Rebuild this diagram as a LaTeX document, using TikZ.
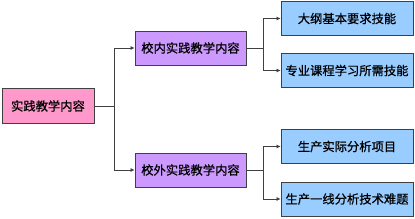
\documentclass[tikz,border=0pt]{standalone}
\usepackage{fontspec}
\usepackage{tikz}
\usetikzlibrary{arrows.meta}
\newfontfamily\cjk[FakeBold=0.6]{Noto Sans CJK SC}
\definecolor{boxPink}{RGB}{255, 153, 204}
\definecolor{boxPurple}{RGB}{204, 153, 255}
\definecolor{boxBlue}{RGB}{153, 204, 255}
\definecolor{edgeGray}{RGB}{64, 64, 64}

\begin{document}
\begin{tikzpicture}[x=1pt, y=1pt,
    box/.style={draw=edgeGray, line width=0.8pt, inner sep=0pt, font=\cjk\fontsize{12.3}{14}\selectfont},
    link/.style={draw=edgeGray, line width=0.7pt, -{Latex[length=4pt, width=4pt]}}]
      \useasboundingbox (0,0) rectangle (415,-218);

      % Root
      \node[box, fill=boxPink, minimum width=92pt, minimum height=35pt] (root) at (48,-106) {实践教学内容};

      % Second level
      \node[box, fill=boxPurple, minimum width=111pt, minimum height=34pt] (inner) at (190.5,-48) {校内实践教学内容};
      \node[box, fill=boxPurple, minimum width=111pt, minimum height=34pt] (outer) at (190.5,-170) {校外实践教学内容};

      % Third level
      \node[box, fill=boxBlue, minimum width=132pt, minimum height=34pt] (syllabus) at (347,-18.5) {大纲基本要求技能};
      \node[box, fill=boxBlue, minimum width=132pt, minimum height=34pt] (course) at (347,-70.5) {专业课程学习所需技能};
      \node[box, fill=boxBlue, minimum width=132pt, minimum height=34pt] (project) at (347,-146.5) {生产实际分析项目};
      \node[box, fill=boxBlue, minimum width=132pt, minimum height=34pt] (problem) at (347,-199) {生产一线分析技术难题};

      % Forks
      \coordinate (rootfork) at ([xshift=20pt]root.east);
      \coordinate (innerfork) at ([xshift=17pt]inner.east);
      \coordinate (outerfork) at ([xshift=17pt]outer.east);

      \draw[edgeGray, line width=0.7pt] (root.east) -- (rootfork);
      \draw[link] (rootfork) |- (inner.west);
      \draw[link] (rootfork) |- (outer.west);

      \draw[edgeGray, line width=0.7pt] (inner.east) -- (innerfork);
      \draw[link] (innerfork) |- (syllabus.west);
      \draw[link] (innerfork) |- (course.west);

      \draw[edgeGray, line width=0.7pt] (outer.east) -- (outerfork);
      \draw[link] (outerfork) |- (project.west);
      \draw[link] (outerfork) |- (problem.west);
    \end{tikzpicture}
\end{document}
